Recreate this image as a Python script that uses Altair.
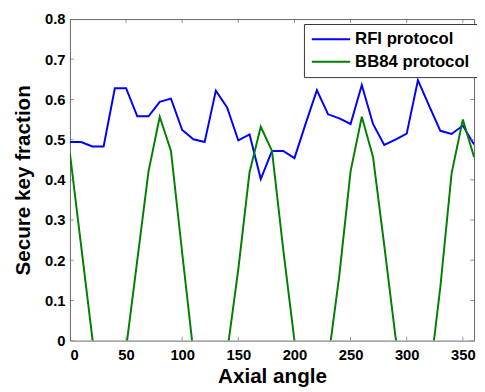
import altair as alt
import pandas as pd

angles = list(range(0, 361, 10))
rfi = [0.494, 0.494, 0.483, 0.483, 0.628, 0.628, 0.558, 0.558, 0.594, 0.602,
       0.524, 0.501, 0.494, 0.622, 0.580, 0.498, 0.513, 0.402, 0.472, 0.472,
       0.454, 0.540, 0.623, 0.563, 0.553, 0.539, 0.636, 0.539, 0.487, 0.500,
       0.515, 0.648, 0.584, 0.522, 0.514, 0.535, 0.488]
bb84 = [0.465, 0.235, 0.005, -0.200, -0.200, -0.020, 0.200, 0.421, 0.557, 0.472,
        0.218, -0.030, -0.250, -0.250, -0.030, 0.178, 0.419, 0.532, 0.472, 0.227,
        0.000, -0.200, -0.200, -0.050, 0.163, 0.421, 0.557, 0.457, 0.237, 0.010,
        -0.200, -0.200, -0.100, 0.134, 0.416, 0.550, 0.457]
series_names = ["RFI protocol", "BB84 protocol"]
series_colors = ["#0000ff", "#008000"]
x_ticks = [0, 50, 100, 150, 200, 250, 300, 350]
y_ticks = [0.0, 0.1, 0.2, 0.3, 0.4, 0.5, 0.6, 0.7, 0.8]

FONT = "Liberation Sans"
FRAME = "#666666"

df = pd.DataFrame({
    "angle": angles + angles,
    "value": rfi + bb84,
    "series": [series_names[0]] * len(angles) + [series_names[1]] * len(angles),
})
xt = pd.DataFrame({"t": x_ticks})
yt = pd.DataFrame({"t": y_ticks})

x_scale = alt.Scale(domain=[0, 360], nice=False, zero=False)
y_scale = alt.Scale(domain=[0, 0.8], nice=False, zero=False)
x_axis = alt.Axis(values=x_ticks, title="Axial angle", format="d",
                  labelPadding=7, titlePadding=4)
y_axis = alt.Axis(values=y_ticks, title="Secure key fraction",
                  labelExpr="datum.value == 0 ? '0' : format(datum.value, '.1f')",
                  labelPadding=5, titlePadding=11)

lines = alt.Chart(df).mark_line(strokeWidth=2, clip=True).encode(
    x=alt.X("angle:Q", scale=x_scale, axis=x_axis),
    y=alt.Y("value:Q", scale=y_scale, axis=y_axis),
    color=alt.Color("series:N",
                    scale=alt.Scale(domain=series_names, range=series_colors),
                    sort=series_names,
                    legend=alt.Legend(title=None, orient="none", legendX=238, legendY=5,
                                      fillColor="white", strokeColor="#333333",
                                      padding=7, symbolType="M-1,0H4.2", symbolSize=225,
                                      symbolStrokeWidth=2, labelFontSize=17,
                                      labelFont=FONT, labelFontWeight="bold",
                                      labelColor="black", labelOffset=28, rowPadding=5)),
)

tick_style = dict(thickness=1, size=8, color=FRAME, clip=True)
bottom_ticks = alt.Chart(xt).mark_tick(orient="vertical", **tick_style).encode(
    x=alt.X("t:Q", scale=x_scale, axis=x_axis),
    y=alt.YDatum(0, type="quantitative", axis=y_axis),
)
top_ticks = alt.Chart(xt).mark_tick(orient="vertical", **tick_style).encode(
    x=alt.X("t:Q", scale=x_scale, axis=x_axis),
    y=alt.YDatum(0.8, type="quantitative", axis=y_axis),
)
left_ticks = alt.Chart(yt).mark_tick(orient="horizontal", **tick_style).encode(
    y=alt.Y("t:Q", scale=y_scale, axis=y_axis),
    x=alt.XDatum(0, type="quantitative", axis=x_axis),
)
right_ticks = alt.Chart(yt).mark_tick(orient="horizontal", **tick_style).encode(
    y=alt.Y("t:Q", scale=y_scale, axis=y_axis),
    x=alt.XDatum(360, type="quantitative", axis=x_axis),
)

chart = alt.layer(lines, bottom_ticks, top_ticks, left_ticks, right_ticks).properties(
    width=411, height=327,
    autosize=alt.AutoSizeParams(type="none"),
    padding={"left": 63, "top": 8, "right": 3, "bottom": 49},
    background="white",
).configure_view(
    stroke=FRAME, strokeWidth=1
).configure_axis(
    domain=False, ticks=False, grid=False,
    labelFont=FONT, labelFontSize=15, labelFontWeight="bold", labelColor="black",
    titleFont=FONT, titleFontSize=21, titleFontWeight="bold", titleColor="black",
)

chart.save("out.html", embed_options={"renderer": "svg", "actions": False})
